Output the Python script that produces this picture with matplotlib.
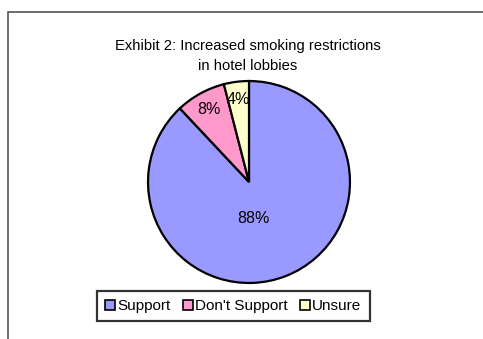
import numpy as np
import matplotlib.pyplot as plt
from matplotlib.patches import Rectangle, Patch

labels = ['Support', "Don't Support", 'Unsure']
values = [88, 8, 4]
colors = ['#9999FF', '#FF99CC', '#FFFFCC']

plt.rcParams['font.family'] = ['Liberation Sans', 'DejaVu Sans']

W, H = 483, 339
fig = plt.figure(figsize=(W / 100, H / 100), dpi=100)

# chart area border (runs off the right and bottom of the picture)
fig.patches.append(Rectangle((8 / W, -0.1), 1.2, (H - 12) / H + 0.1,
                             transform=fig.transFigure, fill=False,
                             edgecolor='#555555', linewidth=1.2))

r = 101
cx, cy = 249, 182
ax = fig.add_axes([(cx - r - 2) / W, (H - cy - r - 2) / H, (2 * r + 4) / W, (2 * r + 4) / H])
wedges, texts, autotexts = ax.pie(values, colors=colors, startangle=90, counterclock=False,
                                  autopct='%d%%', pctdistance=0.82, radius=1,
                                  wedgeprops=dict(edgecolor='black', linewidth=1.6),
                                  textprops=dict(fontsize=11.5, color='black'))
ax.set_xlim(-1.02, 1.02)
ax.set_ylim(-1.02, 1.02)
ax.set_aspect('equal')

# Excel places the big slice label closer to the centre, just below it
autotexts[0].set_position((0.04, -0.36))

fig.text(248 / W, 1 - 56 / H, 'Exhibit 2: Increased smoking restrictions\nin hotel lobbies',
         ha='center', va='center', fontsize=10.6, linespacing=1.5)

handles = [Patch(facecolor=c, edgecolor='black', linewidth=1.2) for c in colors]
leg = fig.legend(handles, labels, loc='center', bbox_to_anchor=(233.5 / W, 1 - 306 / H),
                 ncol=3, fontsize=11, frameon=True, fancybox=False,
                 handlelength=0.65, handleheight=0.65, handletextpad=0.15,
                 columnspacing=0.8, borderpad=0.55, borderaxespad=0)
leg.get_frame().set_edgecolor('black')
leg.get_frame().set_linewidth(1.6)

fig.savefig('out.png', dpi=100)
